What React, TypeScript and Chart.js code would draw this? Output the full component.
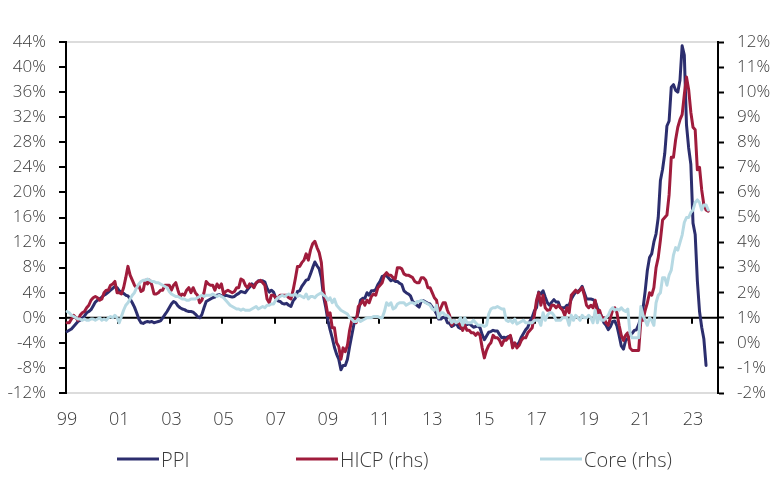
import React, { useEffect, useRef } from "react";
import { Chart, registerables } from "chart.js";

Chart.register(...registerables);

const FONT = '"Open Sans", "Noto Sans", sans-serif';
const TEXT = "#3a3a3a";

// Monthly axis: January 1999 through December 2023
const FIRST_YEAR = 1999;
const LAST_YEAR = 2023;
const yearLabels = ["99", "01", "03", "05", "07", "09", "11", "13", "15", "17", "19", "21", "23"];

// Producer prices, % YoY (left axis), Jan 1999 - Jul 2023
const ppi = [
  -2.2, -2.0, -1.8, -1.4, -1.0, -0.6, -0.4, -0.1, 0.3, 0.8, 1.0, 1.3,
  1.9, 2.5, 2.8, 3.0, 3.3, 3.6, 3.8, 4.1, 4.4, 4.7, 5.0, 4.8,
  4.3, 4.1, 3.9, 3.6, 3.5, 3.0, 2.4, 1.7, 0.8, -0.2, -0.8, -0.9,
  -0.7, -0.6, -0.7, -0.6, -0.8, -0.7, -0.6, -0.5, 0.0, 0.5, 1.0, 1.6,
  2.2, 2.6, 2.4, 1.9, 1.6, 1.4, 1.3, 1.1, 1.0, 1.0, 0.9, 0.6,
  0.2, 0.0, 0.5, 1.6, 2.6, 2.8, 3.0, 3.2, 3.3, 3.6, 3.7, 3.5,
  3.4, 3.6, 3.5, 3.4, 3.3, 3.4, 3.7, 3.9, 4.2, 4.1, 4.0, 4.5,
  4.9, 5.4, 5.1, 5.5, 5.9, 5.8, 5.9, 5.7, 4.7, 4.1, 4.4, 4.1,
  3.1, 2.7, 2.6, 2.3, 2.2, 2.3, 2.0, 1.8, 2.7, 3.1, 4.2, 4.3,
  5.0, 5.5, 6.0, 6.1, 7.0, 8.0, 8.9, 8.3, 7.8, 6.4, 3.4, 1.7,
  -0.4, -1.9, -3.2, -4.7, -5.8, -6.6, -8.3, -7.6, -7.6, -6.6, -4.6, -2.8,
  -1.0, -0.3, 0.9, 2.8, 3.1, 3.1, 4.0, 3.6, 4.3, 4.3, 4.5, 5.3,
  5.8, 6.6, 6.7, 6.7, 6.3, 5.9, 6.1, 5.8, 5.8, 5.5, 5.3, 4.3,
  4.0, 3.8, 3.5, 2.6, 2.3, 2.0, 1.7, 2.7, 2.7, 2.5, 2.3, 2.2,
  1.7, 1.3, 0.6, -0.2, -0.2, 0.1, 0.1, -0.8, -0.9, -1.4, -1.2, -0.8,
  -1.5, -1.7, -1.6, -1.2, -1.1, -0.9, -1.2, -1.5, -1.4, -1.3, -1.6, -2.7,
  -3.5, -2.9, -2.3, -2.2, -2.0, -2.1, -2.1, -2.7, -3.2, -3.1, -3.2, -3.0,
  -3.0, -4.2, -4.1, -4.4, -3.9, -3.1, -2.5, -1.9, -1.5, -0.5, 0.1, 1.1,
  1.6, 4.1, 3.8, 4.3, 3.3, 2.4, 2.0, 2.5, 2.9, 2.5, 2.5, 1.6,
  1.6, 1.6, 2.0, 2.0, 3.0, 3.6, 4.1, 4.2, 4.5, 5.0, 4.0, 3.0,
  3.0, 3.0, 2.9, 2.6, 1.6, 0.8, 0.2, -0.8, -1.2, -1.9, -1.4, -0.6,
  -0.5, -1.3, -2.8, -4.5, -5.0, -3.6, -3.3, -2.6, -2.5, -2.0, -1.9, -1.1,
  0.0, 1.5, 4.3, 7.6, 9.6, 10.2, 12.1, 13.4, 16.0, 21.9, 23.7, 26.2,
  30.6, 31.4, 36.8, 37.2, 36.3, 36.0, 37.9, 43.4, 41.9, 30.8, 27.1, 24.5,
  15.1, 13.3, 5.9, 1.0, -1.5, -3.4, -7.6,
];

// Headline HICP, % YoY (right axis), Jan 1999 - Aug 2023
const hicp = [
  0.8, 0.8, 0.95, 1.1, 1.0, 0.9, 1.1, 1.2, 1.25, 1.4, 1.5, 1.7,
  1.8, 1.85, 1.8, 1.7, 1.75, 2.0, 2.1, 2.1, 2.3, 2.35, 2.45, 2.0,
  2.0, 1.95, 2.2, 2.6, 3.05, 2.7, 2.5, 2.3, 2.2, 2.3, 2.05, 2.1,
  2.5, 2.35, 2.5, 2.3, 1.95, 1.95, 2.0, 2.1, 2.1, 2.3, 2.3, 2.3,
  2.1, 2.3, 2.4, 2.1, 1.85, 1.95, 1.9, 2.1, 2.2, 2.0, 2.2, 2.0,
  1.9, 1.6, 1.7, 2.0, 2.45, 2.35, 2.3, 2.3, 2.1, 2.35, 2.2, 2.35,
  1.95, 2.05, 2.1, 2.05, 2.0, 2.05, 2.2, 2.2, 2.55, 2.5, 2.3, 2.2,
  2.35, 2.3, 2.2, 2.4, 2.45, 2.5, 2.4, 2.3, 1.75, 1.6, 1.9, 1.9,
  1.8, 1.8, 1.9, 1.9, 1.9, 1.9, 1.8, 1.75, 2.1, 2.55, 3.05, 3.05,
  3.2, 3.3, 3.55, 3.3, 3.7, 3.95, 4.05, 3.8, 3.6, 3.2, 2.1, 1.6,
  1.1, 1.2, 0.6, 0.6, 0.0, -0.15, -0.65, -0.2, -0.35, -0.1, 0.5, 0.9,
  0.95, 0.8, 1.45, 1.55, 1.7, 1.5, 1.7, 1.6, 1.85, 1.95, 1.9, 2.2,
  2.3, 2.4, 2.7, 2.8, 2.7, 2.7, 2.6, 2.55, 3.0, 3.0, 2.95, 2.75,
  2.7, 2.7, 2.65, 2.6, 2.45, 2.4, 2.4, 2.6, 2.6, 2.5, 2.2, 2.2,
  2.0, 1.8, 1.7, 1.2, 1.4, 1.6, 1.6, 1.3, 1.1, 0.7, 0.9, 0.8,
  0.8, 0.7, 0.5, 0.7, 0.5, 0.5, 0.4, 0.4, 0.3, 0.4, 0.3, -0.2,
  -0.6, -0.3, -0.1, 0.0, 0.3, 0.2, 0.2, 0.1, -0.1, 0.1, 0.1, 0.2,
  0.3, -0.2, 0.0, -0.2, -0.1, 0.1, 0.2, 0.2, 0.4, 0.5, 0.6, 1.1,
  1.7, 2.0, 1.5, 1.9, 1.4, 1.3, 1.3, 1.5, 1.5, 1.4, 1.5, 1.4,
  1.3, 1.1, 1.4, 1.2, 1.9, 2.0, 2.1, 2.0, 2.1, 2.2, 1.9, 1.5,
  1.4, 1.5, 1.4, 1.7, 1.2, 1.3, 1.0, 1.0, 0.8, 0.7, 1.0, 1.3,
  1.4, 1.2, 0.7, 0.3, 0.1, 0.3, 0.4, -0.2, -0.3, -0.3, -0.3, -0.3,
  0.9, 0.9, 1.3, 1.6, 2.0, 1.9, 2.2, 3.0, 3.4, 4.1, 4.9, 5.0,
  5.1, 5.9, 7.4, 7.4, 8.1, 8.6, 8.9, 9.1, 9.9, 10.6, 10.1, 9.2,
  8.6, 8.5, 6.9, 7.0, 6.1, 5.5, 5.3, 5.25,
];

// Core HICP, % YoY (right axis), Jan 1999 - Aug 2023
const core = [
  1.25, 1.2, 1.1, 1.05, 1.0, 0.95, 0.95, 0.9, 0.95, 0.9, 0.9, 0.95,
  0.95, 0.9, 0.95, 1.0, 0.9, 0.95, 0.9, 1.0, 1.05, 1.0, 1.1, 1.0,
  0.8, 1.05, 1.3, 1.5, 1.6, 1.75, 1.9, 2.0, 2.2, 2.35, 2.45, 2.5,
  2.5, 2.55, 2.5, 2.45, 2.45, 2.4, 2.4, 2.35, 2.3, 2.25, 2.2, 2.05,
  1.95, 1.9, 1.85, 1.85, 1.8, 1.75, 1.75, 1.7, 1.7, 1.75, 1.75, 1.75,
  1.8, 1.85, 1.9, 1.85, 1.9, 1.9, 1.9, 1.95, 1.9, 1.85, 1.9, 1.85,
  1.8, 1.7, 1.6, 1.5, 1.45, 1.4, 1.35, 1.35, 1.3, 1.35, 1.3, 1.3,
  1.3, 1.35, 1.4, 1.45, 1.35, 1.4, 1.45, 1.4, 1.5, 1.5, 1.55, 1.55,
  1.7, 1.8, 1.85, 1.9, 1.85, 1.9, 1.95, 1.9, 1.9, 1.95, 1.85, 1.9,
  1.85, 1.8, 1.95, 1.75, 1.85, 1.85, 1.8, 1.9, 1.95, 2.0, 1.9, 1.85,
  1.7, 1.8, 1.6, 1.75, 1.5, 1.4, 1.3, 1.25, 1.2, 1.15, 1.0, 0.95,
  0.85, 0.85, 0.95, 0.85, 0.9, 0.95, 1.0, 1.0, 1.0, 1.05, 1.05, 1.05,
  1.0, 1.0, 1.25, 1.6, 1.5, 1.6, 1.35, 1.4, 1.55, 1.6, 1.6, 1.6,
  1.5, 1.55, 1.6, 1.6, 1.55, 1.65, 1.65, 1.7, 1.65, 1.6, 1.55, 1.5,
  1.35, 1.3, 1.5, 1.0, 1.2, 1.2, 1.1, 1.1, 1.0, 0.8, 0.9, 0.8,
  0.85, 1.0, 0.7, 1.0, 0.8, 0.8, 0.8, 0.9, 0.8, 0.7, 0.7, 0.7,
  0.65, 0.7, 1.15, 1.35, 1.4, 1.4, 1.45, 1.4, 1.35, 1.35, 0.9, 0.85,
  0.9, 0.8, 0.95, 0.75, 0.8, 0.85, 0.9, 0.8, 0.8, 0.8, 0.8, 0.9,
  0.9, 0.9, 0.7, 1.2, 0.9, 1.1, 1.2, 1.2, 1.1, 0.9, 0.9, 0.9,
  1.0, 1.0, 1.0, 0.7, 1.1, 0.9, 1.1, 1.0, 0.9, 1.1, 1.0, 1.0,
  1.1, 1.0, 0.8, 1.3, 0.8, 1.1, 0.9, 0.9, 1.0, 1.1, 1.3, 1.4,
  1.3, 1.35, 1.3, 1.4, 1.3, 1.25, 1.35, 0.4, 0.2, 0.2, 0.2, 0.2,
  1.45, 1.1, 0.9, 0.7, 1.0, 0.9, 0.7, 1.6, 1.9, 2.0, 2.6, 2.6,
  2.3, 2.7, 2.9, 3.5, 3.8, 3.7, 4.0, 4.3, 4.8, 5.0, 5.0, 5.2,
  5.3, 5.6, 5.7, 5.6, 5.3, 5.5, 5.5, 5.3,
];

const seriesNames = ["PPI", "HICP (rhs)", "Core (rhs)"];
const seriesColors = ["#2c2e6e", "#a01c3c", "#b6d9e3"];

const months: string[] = [];
for (let y = FIRST_YEAR; y <= LAST_YEAR; y++) {
  for (let m = 1; m <= 12; m++) months.push(`${y}-${String(m).padStart(2, "0")}`);
}

// Black zero line with downward tick marks every two years
const zeroAxisPlugin = {
  id: "zeroAxis",
  beforeDatasetsDraw(chart: any) {
    const { ctx, chartArea, scales } = chart;
    const y0 = scales.y.getPixelForValue(0);
    const xs = scales.x;
    const half = (xs.getPixelForValue(1) - xs.getPixelForValue(0)) / 2;
    ctx.save();
    ctx.strokeStyle = "#000";
    ctx.lineWidth = 2;
    ctx.beginPath();
    ctx.moveTo(chartArea.left, y0);
    ctx.lineTo(chartArea.right, y0);
    for (const t of xs.ticks) {
      if (t.value === 0) continue;
      const px = Math.round(xs.getPixelForValue(t.value) - half);
      ctx.moveTo(px, y0);
      ctx.lineTo(px, y0 + 6);
    }
    ctx.stroke();
    ctx.restore();
  },
};

export default function App() {
  const canvasRef = useRef<HTMLCanvasElement | null>(null);

  useEffect(() => {
    if (!canvasRef.current) return;
    const edgeGrid = (ctx: any) =>
      ctx.tick && (ctx.tick.value === 44 || ctx.tick.value === -12) ? "#dcdcdc" : "rgba(0,0,0,0)";
    const tickFont = { family: FONT, size: 17, weight: "300" as const };

    const chart = new Chart(canvasRef.current, {
      type: "line",
      data: {
        labels: months,
        datasets: [
          { label: seriesNames[0], data: ppi, yAxisID: "y", borderColor: seriesColors[0], order: 2 },
          { label: seriesNames[1], data: hicp, yAxisID: "y1", borderColor: seriesColors[1], order: 1 },
          { label: seriesNames[2], data: core, yAxisID: "y1", borderColor: seriesColors[2], order: 0 },
        ].map((d) => ({
          ...d,
          borderWidth: 3,
          pointRadius: 0,
          tension: 0,
          fill: false,
          borderJoinStyle: "round" as const,
          borderCapStyle: "round" as const,
        })),
      },
      options: {
        responsive: false,
        animation: false,
        layout: { padding: { top: 42, bottom: 40, left: 0, right: 0 } },
        plugins: { legend: { display: false }, tooltip: { enabled: false } },
        scales: {
          x: {
            type: "category",
            offset: true,
            grid: { display: false, drawTicks: false },
            border: { display: false },
            afterBuildTicks: (s: any) => {
              s.ticks = s.ticks.filter((t: any) => t.value % 24 === 0);
            },
            afterFit: (s: any) => {
              s.height = 44;
            },
            ticks: {
              autoSkip: false,
              maxRotation: 0,
              padding: 16,
              color: TEXT,
              font: { ...tickFont, size: 18 },
              callback: (v: any) => yearLabels[Math.round(Number(v) / 24)],
            },
          },
          y: {
            position: "left",
            min: -12,
            max: 44,
            afterFit: (s: any) => {
              s.width = 66;
            },
            border: { display: true, color: "#000", width: 2 },
            grid: { color: edgeGrid, lineWidth: 2, tickColor: "#000", tickLength: 7, tickWidth: 2 },
            ticks: {
              stepSize: 4,
              padding: 13,
              color: TEXT,
              font: tickFont,
              callback: (v: any) => `${v}%`,
            },
          },
          y1: {
            position: "right",
            min: -2,
            max: 12,
            afterFit: (s: any) => {
              s.width = 58;
            },
            border: { display: true, color: "#000", width: 2 },
            grid: { drawOnChartArea: false, tickColor: "#000", tickLength: 6, tickWidth: 2 },
            ticks: {
              stepSize: 1,
              padding: 13,
              color: TEXT,
              font: tickFont,
              callback: (v: any) => `${v}%`,
            },
          },
        },
      },
      plugins: [zeroAxisPlugin],
    });
    return () => chart.destroy();
  }, []);

  const legendLeft = [117, 296, 540];

  return (
    <div style={{ position: "fixed", left: 0, top: 0, width: 776, height: 477, background: "#fff" }}>
      <canvas ref={canvasRef} width={776} height={477} style={{ display: "block" }} />
      {seriesNames.map((name, i) => (
        <div
          key={name}
          style={{
            position: "absolute",
            left: legendLeft[i],
            top: 459,
            transform: "translateY(-50%)",
            display: "flex",
            alignItems: "center",
            fontFamily: FONT,
            fontWeight: 300,
            fontSize: 20,
            color: TEXT,
            whiteSpace: "nowrap",
          }}
        >
          <span style={{ display: "inline-block", width: 42, height: 3, background: seriesColors[i], marginRight: 2 }} />
          <span>{name}</span>
        </div>
      ))}
    </div>
  );
}
